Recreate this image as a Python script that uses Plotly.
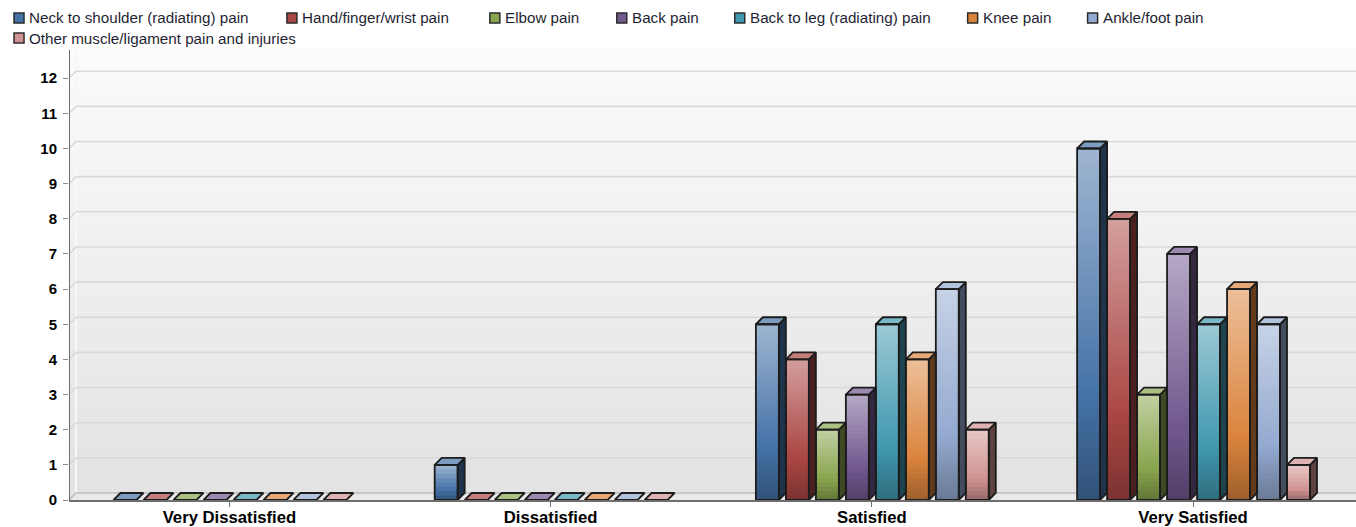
import plotly.graph_objects as go

categories = ["Very Dissatisfied", "Dissatisfied", "Satisfied", "Very Satisfied"]
series_names = ["Neck to shoulder (radiating) pain", "Hand/finger/wrist pain", "Elbow pain", "Back pain",
                "Back to leg (radiating) pain", "Knee pain", "Ankle/foot pain",
                "Other muscle/ligament pain and injuries"]
neck = [0, 1, 5, 10]
hand = [0, 0, 4, 8]
elbow = [0, 0, 2, 3]
back = [0, 0, 3, 7]
back_leg = [0, 0, 5, 5]
knee = [0, 0, 4, 6]
ankle = [0, 0, 6, 5]
other = [0, 0, 2, 1]
series_values = [neck, hand, elbow, back, back_leg, knee, ankle, other]
colors = ["#4572A7", "#AA4643", "#89A54E", "#71588F", "#4198AF", "#DB843D", "#93A9CF", "#D19392"]
y_ticks = list(range(0, 13))

W, H = 1356, 527
PX0, PY0 = 68.5, 500          # plot origin in page pixels
PY_TOP = 45
CAT0, CAT_STEP = 229, 321.33  # first category centre, spacing
Y_SCALE = 35.15
DEPTH = 7
BAR_W, BAR_STEP, GROUP_OFF = 23, 30, 116
FONT = "Liberation Sans, Arial"

xmin = (PX0 - CAT0) / CAT_STEP
xmax = (W - CAT0) / CAT_STEP
ymax = (PY0 - PY_TOP) / Y_SCALE
dx = lambda px: px / CAT_STEP
dy = lambda px: px / Y_SCALE
ypx = lambda px: (PY0 - px) / Y_SCALE


def rgb(h):
    return [int(h[i:i + 2], 16) for i in (1, 3, 5)]


def mix(h, other_rgb, t):
    c = rgb(h)
    return "rgb(%d,%d,%d)" % tuple(round(a + (b - a) * t) for a, b in zip(c, other_rgb))


def front_color(h, t):
    """t = 0 at the bar's foot, 1 at its head"""
    if t > 0.3:
        return mix(h, (255, 255, 255), 0.48 * (t - 0.3) / 0.7)
    return mix(h, (0, 0, 0), 0.28 * (0.3 - t) / 0.3)


shapes = []
# back wall gradient: painted top down, each band reaching to the floor so no seams show
N_BANDS = 40
wall_top, wall_bot = 47, 493
for b in range(N_BANDS):
    t0 = b / N_BANDS
    v = round(251 + (226 - 251) * t0)
    shapes.append(dict(type="rect", layer="below", xref="x", yref="y", x0=xmin, x1=xmax,
                       y0=ypx(wall_top + (wall_bot - wall_top) * t0), y1=0,
                       fillcolor=f"rgb({v},{v},{v})", line=dict(width=0)))
# floor
shapes.append(dict(type="path", layer="below", xref="x", yref="y",
                   path=f"M{xmin},0 L{xmin + dx(DEPTH)},{dy(DEPTH)} L{xmax},{dy(DEPTH)} L{xmax},0 Z",
                   fillcolor="#e9e9e9", line=dict(width=0)))
# wall edge highlight
shapes.append(dict(type="line", layer="below", xref="x", yref="y", x0=xmin + dx(DEPTH), x1=xmin + dx(DEPTH),
                   y0=dy(DEPTH), y1=ypx(50), line=dict(color="#f7f7f7", width=2)))
# grid lines on wall, with the diagonal step back from the axis
for v in y_ticks:
    col = "#bdbdbd" if v == 0 else "#d9d9d9"
    shapes.append(dict(type="path", layer="below", xref="x", yref="y",
                       path=f"M{xmin},{v} L{xmin + dx(DEPTH)},{v + dy(DEPTH)} L{xmax},{v + dy(DEPTH)}",
                       line=dict(color=col, width=1.6)))
# y axis line
shapes.append(dict(type="line", layer="above", xref="x", yref="y", x0=xmin, x1=xmin, y0=0, y1=ypx(50),
                   line=dict(color="#6e6e6e", width=2)))

fig = go.Figure()
for i, (name, vals, col) in enumerate(zip(series_names, series_values, colors)):
    xs, ys, bases, cols = [], [], [], []
    side_x, side_y, top_x, top_y, out_x, out_y = [], [], [], [], [], []
    for k, v in enumerate(vals):
        left = k + dx(-GROUP_OFF + BAR_STEP * i)
        right = left + dx(BAR_W)
        centre = (left + right) / 2
        n = int(v * 8)
        for s in range(n):
            xs.append(centre)
            # every slice but the last runs on under the next one, hiding the seam
            ys.append(v / n + (dy(1) if s < n - 1 else 0))
            bases.append(v * s / n)
            cols.append(front_color(col, (s + 0.5) / n))
        d_x, d_y = dx(DEPTH), dy(DEPTH)
        top_x += [left, left + d_x, right + d_x, right, left, None]
        top_y += [v, v + d_y, v + d_y, v, v, None]
        if v > 0:
            side_x += [right, right + d_x, right + d_x, right, right, None]
            side_y += [0, d_y, v + d_y, v, 0, None]
            out_x += [left, left, right, right, left, None]
            out_y += [0, v, v, 0, 0, None]
    fig.add_trace(go.Bar(x=xs, y=ys, base=bases, width=dx(BAR_W), name=name, showlegend=False,
                         marker=dict(color=cols, line=dict(width=0)), hoverinfo="skip"))
    outline = dict(color="#1c1c1c", width=1.8)
    fig.add_trace(go.Scatter(x=side_x, y=side_y, mode="lines", fill="toself", fillcolor=mix(col, (0, 0, 0), 0.55),
                             line=outline, showlegend=False, hoverinfo="skip"))
    fig.add_trace(go.Scatter(x=top_x, y=top_y, mode="lines", fill="toself", fillcolor=mix(col, (255, 255, 255), 0.3),
                             line=outline, showlegend=False, hoverinfo="skip"))
    fig.add_trace(go.Scatter(x=out_x, y=out_y, mode="lines", line=outline, showlegend=False, hoverinfo="skip"))

# legend
legend_pos = [(13, 18), (286, 18), (489, 18), (616, 18), (734, 18), (967, 18), (1087, 18), (13, 38)]
annotations = []
plot_w = W - PX0
plot_h = PY0 - PY_TOP
for name, col, (lx, ly) in zip(series_names, colors, legend_pos):
    shapes.append(dict(type="rect", layer="above", xref="paper", yref="paper",
                       x0=(lx + 0.5 - PX0) / plot_w, x1=(lx + 10.5 - PX0) / plot_w,
                       y0=(PY0 - ly - 5) / plot_h, y1=(PY0 - ly + 5) / plot_h,
                       fillcolor=col, line=dict(color="#2b2b2b", width=1.5)))
    annotations.append(dict(xref="paper", yref="paper", x=(lx + 13.5 - PX0) / plot_w, y=(PY0 - ly) / plot_h,
                            xanchor="left", yanchor="middle", text=name, showarrow=False,
                            font=dict(family=FONT, size=15.2, color="#1f1f33")))

fig.update_layout(
    width=W, height=H, barmode="overlay", paper_bgcolor="white", plot_bgcolor="white",
    margin=dict(l=PX0, r=0, t=PY_TOP, b=H - PY0, pad=0), showlegend=False,
    shapes=shapes, annotations=annotations,
    xaxis=dict(range=[xmin, xmax], tickmode="array", tickvals=list(range(len(categories))), ticktext=categories,
               showgrid=False, zeroline=False, showline=True, linecolor="#6e6e6e", linewidth=2,
               ticks="outside", ticklen=5, tickcolor="#6e6e6e", tickwidth=1, ticklabelstandoff=-4,
               tickfont=dict(family=FONT, size=16.7, color="#000000", weight="bold")),
    yaxis=dict(range=[0, ymax], tickmode="array", tickvals=y_ticks, showgrid=False, zeroline=False, showline=False,
               ticks="outside", ticklen=5, tickcolor="#8a8a8a", tickwidth=1, ticklabelstandoff=3,
               tickfont=dict(family=FONT, size=15, color="#000000", weight="bold")),
)
fig.write_html("out.html", config=dict(displayModeBar=False),
               post_script="document.body.style.margin='0';")
